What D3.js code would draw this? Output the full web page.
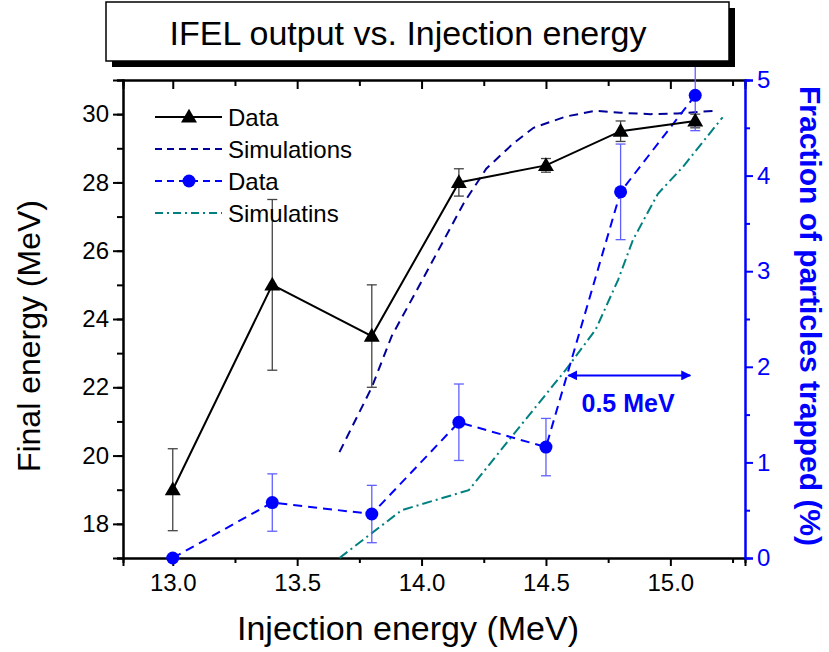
<!DOCTYPE html>
<html>
<head>
<meta charset="utf-8">
<script src="https://cdn.jsdelivr.net/npm/d3@7"></script>
<style>
  body { margin: 0; background: #fff; }
  svg { font-family: "Liberation Sans", Arial, sans-serif; }
</style>
</head>
<body>
<svg id="chart" width="829" height="652"></svg>
<script>
// measured points
var injection = [13.0, 13.4, 13.8, 14.15, 14.5, 14.8, 15.1];
var finalEnergy = [19.0, 25.0, 23.5, 28.0, 28.5, 29.5, 29.8];
var finalErr = [1.2, 2.5, 1.5, 0.4, 0.2, 0.3, 0.2];
var trapped = [0, 0.58, 0.46, 1.42, 1.16, 3.83, 4.84];
var trappedErr = [0, 0.3, 0.3, 0.4, 0.3, 0.5, 0.37];

// simulation curves
var simEnergyX = [13.67, 13.8, 13.88, 14.0, 14.17, 14.26, 14.37, 14.45, 14.58, 14.7, 14.8, 14.92, 15.03, 15.18];
var simEnergyY = [20.1, 22.0, 23.5, 25.1, 27.4, 28.4, 29.15, 29.6, 29.93, 30.1, 30.04, 30.0, 30.02, 30.1];
var simTrapX = [13.67, 13.8, 13.92, 14.19, 14.35, 14.58, 14.7, 14.79, 14.85, 14.95, 15.05, 15.21];
var simTrapY = [0, 0.26, 0.5, 0.71, 1.23, 1.97, 2.39, 2.91, 3.33, 3.81, 4.09, 4.61];

var xTicks = [13.0, 13.5, 14.0, 14.5, 15.0];
var leftTicks = [18, 20, 22, 24, 26, 28, 30];
var rightTicks = [0, 1, 2, 3, 4, 5];

var margin = { top: 80, right: 84, bottom: 94, left: 123 },
    width = 829 - margin.left - margin.right,
    height = 652 - margin.top - margin.bottom;

var svg = d3.select("#chart");
var g = svg.append("g").attr("transform", "translate(" + margin.left + "," + margin.top + ")");

var x = d3.scaleLinear().domain([12.8, 15.3]).range([0, width]);
var yL = d3.scaleLinear().domain([17, 31]).range([height, 0]);
var yR = d3.scaleLinear().domain([0, 5]).range([height, 0]);

var BLUE = "#0000ff", NAVY = "#000099", TEAL = "#008080";

// title box with drop shadow
svg.append("rect").attr("x", 112).attr("y", 8).attr("width", 623).attr("height", 59).attr("fill", "#000");
svg.append("rect").attr("x", 106).attr("y", 2).attr("width", 623).attr("height", 59)
    .attr("fill", "#fff").attr("stroke", "#000").attr("stroke-width", 1.5);
svg.append("text").attr("x", 408).attr("y", 45).attr("text-anchor", "middle")
    .attr("font-size", 34).text("IFEL output vs. Injection energy");

// axes
function styleAxis(sel, color) {
    sel.selectAll("path, line").attr("stroke", color).attr("stroke-width", 2);
    sel.selectAll("text").attr("fill", color).attr("font-size", 24);
}

// minor ticks first
g.append("g").attr("transform", "translate(0," + height + ")")
    .call(d3.axisBottom(x).tickValues(d3.range(13.25, 15.31, 0.5)).tickSize(5).tickFormat(""))
    .call(styleAxis, "#000");
g.append("g")
    .call(d3.axisTop(x).tickValues(d3.range(13.25, 15.31, 0.5)).tickSize(-6).tickFormat(""))
    .call(styleAxis, "#000");
g.append("g")
    .call(d3.axisLeft(yL).tickValues(d3.range(17, 31.1, 1)).tickSize(6).tickFormat(""))
    .call(styleAxis, "#000");

g.append("g").attr("transform", "translate(0," + height + ")")
    .call(d3.axisBottom(x).tickValues(xTicks).tickSize(8).tickPadding(8).tickFormat(d3.format(".1f")))
    .call(styleAxis, "#000");
g.append("g")
    .call(d3.axisTop(x).tickValues(xTicks).tickSize(-9).tickFormat(""))
    .call(styleAxis, "#000");
g.append("g")
    .call(d3.axisLeft(yL).tickValues(leftTicks).tickSize(10).tickPadding(4).tickFormat(d3.format("d")))
    .call(styleAxis, "#000");

var rAxis = g.append("g").attr("transform", "translate(" + width + ",0)");
rAxis.append("g").call(d3.axisRight(yR).tickValues(d3.range(0.5, 5, 1)).tickSize(5).tickFormat(""))
    .call(styleAxis, BLUE);
rAxis.append("g").call(d3.axisRight(yR).tickValues(rightTicks).tickSize(8).tickPadding(4).tickFormat(d3.format("d")))
    .call(styleAxis, BLUE);

// axis titles
svg.append("text").attr("transform", "translate(40," + (margin.top + yL(23.5)) + ") rotate(-90)")
    .attr("text-anchor", "middle").attr("font-size", 32).text("Final energy (MeV)");
svg.append("text").attr("x", 408).attr("y", 640)
    .attr("text-anchor", "middle").attr("font-size", 34).text("Injection energy (MeV)");
svg.append("text").attr("transform", "translate(800," + 316 + ") rotate(90)")
    .attr("text-anchor", "middle").attr("font-size", 30).attr("font-weight", "bold")
    .attr("fill", BLUE).text("Fraction of particles trapped (%)");

// simulation curves
var simE = simEnergyX.map(function (d, i) { return [d, simEnergyY[i]]; });
var simT = simTrapX.map(function (d, i) { return [d, simTrapY[i]]; });

g.append("path").datum(simE)
    .attr("d", d3.line().x(function (d) { return x(d[0]); }).y(function (d) { return yL(d[1]); }))
    .attr("fill", "none").attr("stroke", NAVY).attr("stroke-width", 2).attr("stroke-dasharray", "9,6");
g.append("path").datum(simT)
    .attr("d", d3.line().x(function (d) { return x(d[0]); }).y(function (d) { return yR(d[1]); }))
    .attr("fill", "none").attr("stroke", TEAL).attr("stroke-width", 2).attr("stroke-dasharray", "10,4,2,4");

// error bars
function errBars(vals, errs, scale, color, cls) {
    var eg = g.append("g").attr("class", cls);
    injection.forEach(function (xv, i) {
        if (!errs[i]) return;
        var cx = x(xv), y0 = scale(vals[i] - errs[i]), y1 = scale(vals[i] + errs[i]);
        eg.append("line").attr("x1", cx).attr("x2", cx).attr("y1", y0).attr("y2", y1);
        eg.append("line").attr("x1", cx - 5).attr("x2", cx + 5).attr("y1", y0).attr("y2", y0);
        eg.append("line").attr("x1", cx - 5).attr("x2", cx + 5).attr("y1", y1).attr("y2", y1);
    });
    eg.selectAll("line").attr("stroke", color).attr("stroke-width", 1.3);
}
errBars(finalEnergy, finalErr, yL, "#444", "err-energy");
errBars(trapped, trappedErr, yR, "#6060ff", "err-trapped");

// measured data lines
g.append("path").datum(injection)
    .attr("d", d3.line().x(function (d) { return x(d); }).y(function (d, i) { return yR(trapped[i]); }))
    .attr("fill", "none").attr("stroke", BLUE).attr("stroke-width", 2).attr("stroke-dasharray", "9,6");
g.append("path").datum(injection)
    .attr("d", d3.line().x(function (d) { return x(d); }).y(function (d, i) { return yL(finalEnergy[i]); }))
    .attr("fill", "none").attr("stroke", "#000").attr("stroke-width", 2);

var tri = d3.symbol().type(d3.symbolTriangle).size(110);
g.selectAll(".tri").data(injection).enter().append("path")
    .attr("class", "tri").attr("d", tri)
    .attr("transform", function (d, i) { return "translate(" + x(d) + "," + (yL(finalEnergy[i]) + 1) + ")"; })
    .attr("fill", "#000");
g.selectAll(".dot").data(injection).enter().append("circle")
    .attr("class", "dot").attr("r", 6.5)
    .attr("cx", function (d) { return x(d); })
    .attr("cy", function (d, i) { return yR(trapped[i]); })
    .attr("fill", BLUE);

// 0.5 MeV annotation
svg.append("defs").append("marker").attr("id", "ah").attr("viewBox", "0 0 10 10")
    .attr("refX", 9).attr("refY", 5).attr("markerWidth", 5).attr("markerHeight", 5)
    .attr("orient", "auto-start-reverse")
    .append("path").attr("d", "M0,0L10,5L0,10z").attr("fill", BLUE);
g.append("line").attr("x1", x(14.59)).attr("x2", x(15.08)).attr("y1", yR(1.91)).attr("y2", yR(1.91))
    .attr("stroke", BLUE).attr("stroke-width", 2)
    .attr("marker-start", "url(#ah)").attr("marker-end", "url(#ah)");
g.append("text").attr("x", x(14.83)).attr("y", yR(1.53)).attr("text-anchor", "middle")
    .attr("font-size", 25).attr("font-weight", "bold").attr("fill", BLUE).text("0.5 MeV");

// legend
var legendItems = [
    { label: "Data", color: "#000", dash: null, mark: "tri" },
    { label: "Simulations", color: NAVY, dash: "7,5", mark: null },
    { label: "Data", color: BLUE, dash: "7,5", mark: "dot" },
    { label: "Simulatins", color: TEAL, dash: "8,4,2,4", mark: null }
];
var lg = svg.append("g").attr("transform", "translate(155,117)");
legendItems.forEach(function (d, i) {
    var row = lg.append("g").attr("transform", "translate(0," + (i * 32) + ")");
    row.append("line").attr("x1", 0).attr("x2", 67).attr("stroke", d.color).attr("stroke-width", 2)
        .attr("stroke-dasharray", d.dash);
    if (d.mark === "tri") row.append("path").attr("d", tri).attr("transform", "translate(34,1)").attr("fill", "#000");
    if (d.mark === "dot") row.append("circle").attr("cx", 34).attr("r", 6.5).attr("fill", BLUE);
    row.append("text").attr("x", 73).attr("y", 0).attr("dy", "0.36em").attr("font-size", 24).text(d.label);
});
</script>
</body>
</html>
